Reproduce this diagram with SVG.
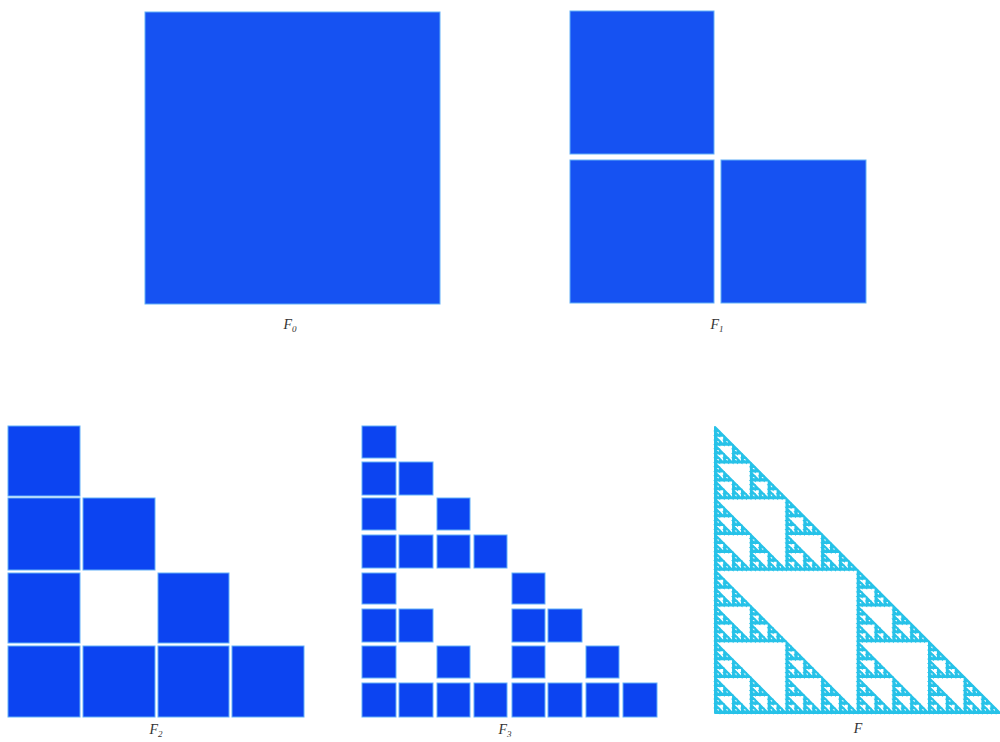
<svg xmlns="http://www.w3.org/2000/svg" width="1000" height="742" viewBox="0 0 1000 742">
<style>
.sq{fill:#1652f2;stroke:#62b0f8;stroke-width:1}
.dk{fill:#0c44f1}
.lbl{font-family:"Liberation Serif",serif;font-style:italic;font-size:14px;fill:#333333;text-anchor:middle}
.sub{font-size:9px}
</style>
<defs>
<polygon id="h" points="0,0.5 0.5,0.5 0.5,1" fill="#ffffff" stroke="#27c2e8" stroke-width="1.5" vector-effect="non-scaling-stroke"/>
<g id="g2"><use href="#h"/><use href="#h" transform="scale(0.5)"/><use href="#h" transform="translate(0,0.5) scale(0.5)"/><use href="#h" transform="translate(0.5,0.5) scale(0.5)"/></g>
<g id="g3"><use href="#h"/><use href="#g2" transform="scale(0.5)"/><use href="#g2" transform="translate(0,0.5) scale(0.5)"/><use href="#g2" transform="translate(0.5,0.5) scale(0.5)"/></g>
<g id="g4"><use href="#h"/><use href="#g3" transform="scale(0.5)"/><use href="#g3" transform="translate(0,0.5) scale(0.5)"/><use href="#g3" transform="translate(0.5,0.5) scale(0.5)"/></g>
<g id="g5"><use href="#h"/><use href="#g4" transform="scale(0.5)"/><use href="#g4" transform="translate(0,0.5) scale(0.5)"/><use href="#g4" transform="translate(0.5,0.5) scale(0.5)"/></g>
<g id="g6"><use href="#h"/><use href="#g5" transform="scale(0.5)"/><use href="#g5" transform="translate(0,0.5) scale(0.5)"/><use href="#g5" transform="translate(0.5,0.5) scale(0.5)"/></g>
</defs>
<rect width="1000" height="742" fill="#ffffff"/>

<g id="F0">
<rect class="sq" x="145" y="12" width="295" height="292"/>
<text class="lbl" x="290" y="329">F<tspan class="sub" dy="3">0</tspan></text>
</g>

<g id="F1">
<rect class="sq" x="570" y="11" width="144" height="143"/>
<rect class="sq" x="570" y="160" width="144" height="143"/>
<rect class="sq" x="721" y="160" width="145" height="143"/>
<text class="lbl" x="717" y="329">F<tspan class="sub" dy="3">1</tspan></text>
</g>

<g id="F2">
<rect class="sq dk" x="8" y="426" width="72" height="70"/>
<rect class="sq dk" x="8" y="498" width="72" height="72"/>
<rect class="sq dk" x="83" y="498" width="72" height="72"/>
<rect class="sq dk" x="8" y="573" width="72" height="70"/>
<rect class="sq dk" x="158" y="573" width="71" height="70"/>
<rect class="sq dk" x="8" y="646" width="72" height="71"/>
<rect class="sq dk" x="83" y="646" width="72" height="71"/>
<rect class="sq dk" x="158" y="646" width="71" height="71"/>
<rect class="sq dk" x="232" y="646" width="72" height="71"/>
<text class="lbl" x="156" y="734">F<tspan class="sub" dy="3">2</tspan></text>
</g>

<g id="F3">
<rect class="sq dk" x="362" y="426" width="34" height="32"/>
<rect class="sq dk" x="362" y="462" width="34" height="33"/>
<rect class="sq dk" x="399" y="462" width="34" height="33"/>
<rect class="sq dk" x="362" y="498" width="34" height="32"/>
<rect class="sq dk" x="437" y="498" width="33" height="32"/>
<rect class="sq dk" x="362" y="535" width="34" height="33"/>
<rect class="sq dk" x="399" y="535" width="34" height="33"/>
<rect class="sq dk" x="437" y="535" width="33" height="33"/>
<rect class="sq dk" x="474" y="535" width="33" height="33"/>
<rect class="sq dk" x="362" y="573" width="34" height="31"/>
<rect class="sq dk" x="512" y="573" width="33" height="31"/>
<rect class="sq dk" x="362" y="609" width="34" height="33"/>
<rect class="sq dk" x="399" y="609" width="34" height="33"/>
<rect class="sq dk" x="512" y="609" width="33" height="33"/>
<rect class="sq dk" x="548" y="609" width="34" height="33"/>
<rect class="sq dk" x="362" y="646" width="34" height="32"/>
<rect class="sq dk" x="437" y="646" width="33" height="32"/>
<rect class="sq dk" x="512" y="646" width="33" height="32"/>
<rect class="sq dk" x="586" y="646" width="33" height="32"/>
<rect class="sq dk" x="362" y="683" width="34" height="34"/>
<rect class="sq dk" x="399" y="683" width="34" height="34"/>
<rect class="sq dk" x="437" y="683" width="33" height="34"/>
<rect class="sq dk" x="474" y="683" width="33" height="34"/>
<rect class="sq dk" x="512" y="683" width="33" height="34"/>
<rect class="sq dk" x="548" y="683" width="34" height="34"/>
<rect class="sq dk" x="586" y="683" width="33" height="34"/>
<rect class="sq dk" x="623" y="683" width="34" height="34"/>
<text class="lbl" x="505" y="734">F<tspan class="sub" dy="3">3</tspan></text>
</g>

<g id="F">
<polygon points="715,427 715,713 1000,713" fill="#27c2e8" stroke="#27c2e8" stroke-width="2" stroke-linejoin="round"/>
<use href="#g6" transform="translate(715,427) scale(285,286)"/>
<text class="lbl" x="858" y="733">F</text>
</g>

<g id="connectors"></g>
</svg>
